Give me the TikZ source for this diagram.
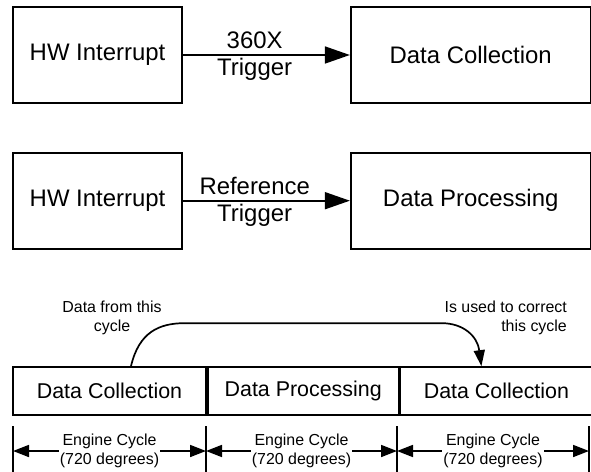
\documentclass[tikz,border=0pt]{standalone}
\usepackage{fontspec}
\setmainfont{Liberation Sans}
\usetikzlibrary{arrows.meta, positioning, calc}

\begin{document}
\begin{tikzpicture}[x=1bp, y=-1bp, node distance=48bp, line width=1.7bp,
    block/.style={rectangle, draw, minimum width=169bp, minimum height=96bp, inner sep=0pt, font=\fontsize{24}{28}\selectfont},
    wideblock/.style={block, minimum width=240bp},
    phase/.style={rectangle, draw, minimum height=48bp, inner sep=0pt, font=\fontsize{21.5}{25}\selectfont},
    trig/.style={font=\fontsize{24}{28}\selectfont},
    note/.style={font=\fontsize{16}{19.5}\selectfont},
    arrow/.style={-{Triangle[length=25bp, width=17bp]}},
    dim/.style={{Triangle[length=16bp, width=12bp]}-{Triangle[length=16bp, width=12bp]}},
    curved/.style={-{Triangle[length=16bp, width=11bp]}}]

    \useasboundingbox (0,0) rectangle (591,472);

    % Trigger blocks
    \node [block] (hw1) at (97.5,55) {HW Interrupt};
    \node [wideblock, right=167bp of hw1] (dcol) {Data Collection};
    \node [block, below=of hw1] (hw2) {HW Interrupt};
    \node [wideblock, below=of dcol] (dproc) {Data Processing};

    \draw [arrow] (hw1) -- node[trig, above, pos=0.43, inner sep=5.5pt] (l1a) {360X}
                              node[trig, below, pos=0.43, inner sep=2.5pt] (l1b) {Trigger} (dcol);
    \draw [arrow] (hw2) -- node[trig, above, pos=0.43, inner sep=5.5pt] (l2a) {Reference}
                              node[trig, below, pos=0.43, inner sep=2.5pt] (l2b) {Trigger} (dproc);

    % Engine cycle phases
    \node [phase, minimum width=193bp] (ph1) at (109.5,391) {Data Collection};
    \node [phase, minimum width=191bp, right=0pt of ph1] (ph2) {Data Processing};
    \node [phase, minimum width=192bp, right=0pt of ph2] (ph3) {Data Collection};

    \node [note, align=center] (from) at (112,318) {Data from this\\cycle};
    \node [note, align=right, anchor=east] (used) at (571,318) {Is used to correct\\this cycle};

    \coordinate (src) at ([xshift=21.5bp]ph1.north);
    \coordinate (dst) at ([xshift=-15bp]ph3.north);
    \draw [curved] (src) .. controls ($(src)+(8,-34)$) and ($(src)+(28,-43)$) .. ($(src)+(54,-43)$)
        -- ($(dst)+(-40,-43)$) .. controls ($(dst)+(-18,-43)$) and ($(dst)+(-4,-30)$) .. (dst);

    % Dimension lines
    \foreach \x/\n in {13/0, 206/1, 397/2, 589/3} {
        \draw (\x,426) -- (\x,472);
        \coordinate (k\n) at (\x,451);
    }
    \draw [dim] (k0) -- node[note, align=center, fill=white, inner sep=1pt] (c1) {Engine Cycle\\(720 degrees)} (k1);
    \draw [dim] (k1) -- node[note, align=center, fill=white, inner sep=1pt] (c2) {Engine Cycle\\(720 degrees)} (k2);
    \draw [dim] (k2) -- node[note, align=center, fill=white, inner sep=1pt] (c3) {Engine Cycle\\(720 degrees)} (k3);

\end{tikzpicture}
\end{document}
